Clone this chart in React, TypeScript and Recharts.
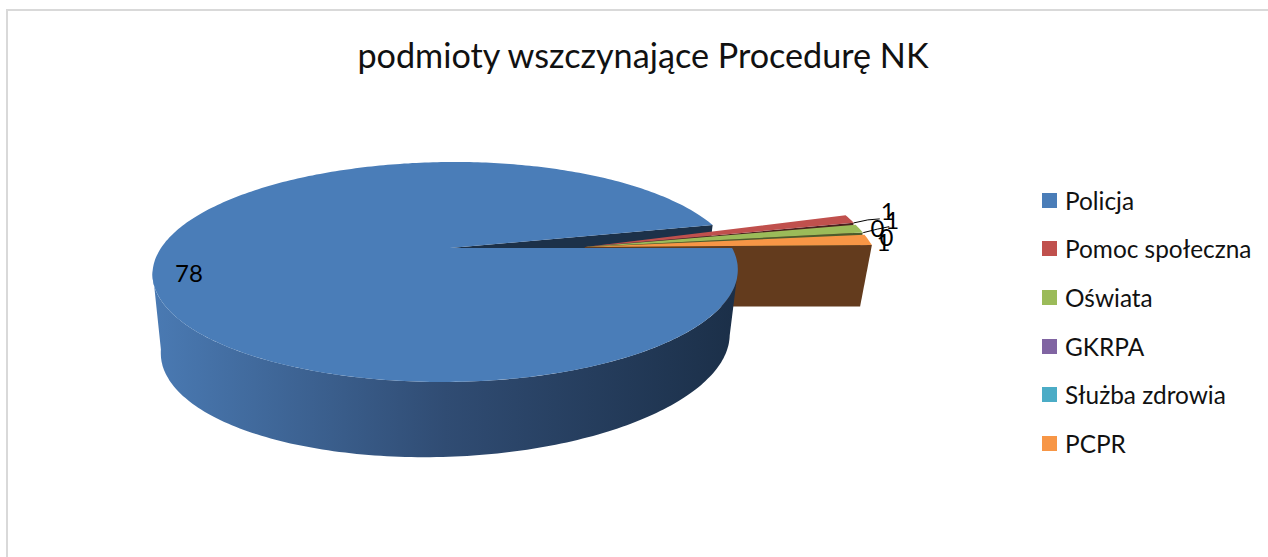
import React from 'react';
import { PieChart, Pie, Legend } from 'recharts';

const SOURCES = ['Policja', 'Pomoc społeczna', 'Oświata', 'GKRPA', 'Służba zdrowia', 'PCPR'];
const COUNTS = [78, 1, 1, 0, 0, 1];
const COLORS = ['#4a7db8', '#c0504d', '#9bbb59', '#8064a2', '#4bacc6', '#f79646'];
const SIDE_COLORS = ['#1c3149', '#4a201f', '#4c5c2c', '#32273f', '#1e4550', '#633b1d'];

const tableData = SOURCES.map((name, i) => ({ name, value: COUNTS[i], fill: COLORS[i] }));

// label placement relative to the slice tip, picked by eye
const LABEL_NUDGE = [
  { dx: -2, dy: 14 },
  { dx: 37, dy: -9 },
  { dx: 32, dy: -10 },
  { dx: 13, dy: -7 },
  { dx: 22, dy: 2 },
  { dx: 15, dy: 2 },
];

const EXPLODE = 0.47;
const PERSPECTIVE = 0.218;
const SQUASH_TOP = 0.365;
const SKEW = -0.02;
const SLICE_GAP = 0.9;

// fake 3D: flat pie coordinates (u right, v towards viewer) to screen
const project = (cx: number, cy: number, r: number, u: number, v: number, bottom: boolean, exploded: boolean) => {
  const d = 1 - PERSPECTIVE * v;
  // the disc is not quite symmetric around its apex
  const trim = exploded ? 1 : u > 0 ? 0.983 : 1.007;
  if (bottom) {
    const x = cx + (0.972 * r * u * trim + SKEW * r * v) / d;
    // the exploded slices sit flat, their lower edge stays level
    const y = exploded
      ? cy + 58.5 + (0.376 * r * v) / d
      : cy + 71 + (0.376 * r * v - 0.024 * r * u) / d;
    return [x, y];
  }
  const stretch = exploded ? 1.3 : 1;
  const x = cx + (r * u * trim + SKEW * r * v) / d;
  const y = cy + (stretch * SQUASH_TOP * r * v) / d - (exploded ? 0.007 * r * u : 0);
  return [x, y];
};

const arcPoints = (p: any, from: number, to: number, offset: number, bottom: boolean) => {
  const pts: number[][] = [];
  const steps = Math.max(2, Math.ceil(Math.abs(to - from)));
  for (let i = 0; i <= steps; i++) {
    const a = ((from + ((to - from) * i) / steps) * Math.PI) / 180;
    pts.push(project(p.cx, p.cy, p.outerRadius, offset + Math.cos(a), -Math.sin(a), bottom, offset > 0));
  }
  return pts;
};

const toPath = (pts: number[][]) =>
  'M' + pts.map((q) => `${q[0].toFixed(1)},${q[1].toFixed(1)}`).join('L') + 'Z';

// cut face on the upper edge of the big slice
const NotchShape = (p: any) => {
  if (p.name !== SOURCES[0]) return <g />;
  const a = (p.endAngle * Math.PI) / 180;
  const r = p.outerRadius;
  const edge = project(p.cx, p.cy, r, Math.cos(a), -Math.sin(a), false, false);
  const apex = project(p.cx, p.cy, r, 0, 0, false, false);
  const low = project(p.cx, p.cy, r, Math.cos(a), -Math.sin(a), true, false);
  const lowApex = project(p.cx, p.cy, r, 0, 0, true, false);
  return <path d={toPath([apex, edge, low, lowApex])} fill={SIDE_COLORS[0]} />;
};

// exploded small slices: dark cut face first, then the top
const SmallShape = (p: any) => {
  if (p.name === SOURCES[0] || p.endAngle === p.startAngle) return <g />;
  const idx = SOURCES.indexOf(p.name);
  const r = p.outerRadius;
  // stop short of the next slice so a strip of the dark face stays visible
  const end = idx === SOURCES.length - 1 ? p.endAngle : p.endAngle + SLICE_GAP;
  const a = (end * Math.PI) / 180;
  const apex = project(p.cx, p.cy, r, EXPLODE, 0, false, true);
  const tip = project(p.cx, p.cy, r, EXPLODE + Math.cos(a), -Math.sin(a), false, true);
  const tipLow = project(p.cx, p.cy, r, EXPLODE + Math.cos(a), -Math.sin(a), true, true);
  const apexLow = project(p.cx, p.cy, r, EXPLODE, 0, true, true);
  const top = [apex, ...arcPoints(p, p.startAngle, end, EXPLODE, false)];
  return (
    <g>
      <path d={toPath([apex, tip, tipLow, apexLow])} fill={SIDE_COLORS[idx]} />
      <path d={toPath(top)} fill={p.fill} />
    </g>
  );
};

// big slice: outer wall with the gradient, then the top
const BigShape = (p: any) => {
  if (p.name !== SOURCES[0]) return <g />;
  // wall runs between the left and right silhouette of the disc
  const wallTop = arcPoints(p, -12, -168, 0, false);
  const wallBottom = arcPoints(p, -12, -168, 0, true).reverse();
  const top = [project(p.cx, p.cy, p.outerRadius, 0, 0, false, false), ...arcPoints(p, p.startAngle, p.endAngle, 0, false)];
  return (
    <g>
      <path d={toPath([...wallTop, ...wallBottom])} fill="url(#wallFill)" />
      <path d={toPath(top)} fill={p.fill} />
    </g>
  );
};

const renderLabel = (p: any) => {
  const idx = SOURCES.indexOf(p.name);
  const mid = (((p.startAngle + p.endAngle) / 2) * Math.PI) / 180;
  const r = p.outerRadius;
  const big = idx === 0;
  const at = big
    ? project(p.cx, p.cy, r, 0.88 * Math.cos(mid), -0.88 * Math.sin(mid), false, false)
    : project(p.cx, p.cy, r, EXPLODE + Math.cos(mid), -Math.sin(mid), false, true);
  const x = at[0] + LABEL_NUDGE[idx].dx;
  const y = at[1] + LABEL_NUDGE[idx].dy;
  const leader = idx === 1 || idx === 2;
  return (
    <g key={p.name}>
      {leader && (
        <path
          d={`M${at[0] + 3},${at[1] + 3}Q${at[0] + 18},${at[1] - 1} ${at[0] + 29},${at[1] - (idx === 1 ? 1 : 3)}`}
          fill="none"
          stroke="#000"
          strokeWidth={1}
        />
      )}
      <text x={x} y={y} textAnchor="middle" dominantBaseline="central" fontSize={24} fontFamily="Lato" fill="#000">
        {p.value}
      </text>
    </g>
  );
};

const LegendList = ({ payload }: any) => {
  // three stacked Pie layers share the same data, show each name once
  const items = (payload || []).filter((it: any, i: number, all: any[]) => all.findIndex((o) => o.value === it.value) === i);
  return (
    <div style={{ fontFamily: 'Lato', fontSize: 24.4, color: '#111' }}>
      {items.map((item: any) => (
        <div key={item.value} style={{ height: 48.6, display: 'flex', alignItems: 'center' }}>
          <span style={{ width: 15, height: 15, background: item.color, marginRight: 8, display: 'inline-block' }} />
          <span>{item.value}</span>
        </div>
      ))}
    </div>
  );
};

const App: React.FC = () => {
  return (
    <div style={{ position: 'absolute', left: 0, top: 0, width: 1268, height: 557, background: '#fff', overflow: 'hidden' }}>
      <div style={{ position: 'absolute', left: 6, top: 9, width: 1262, height: 548, borderLeft: '2px solid #d9d9d9', borderTop: '2px solid #d9d9d9', boxSizing: 'border-box' }} />
      <div style={{ position: 'absolute', left: 0, top: 34, width: 1286, textAlign: 'center', fontFamily: 'Lato', fontSize: 34.2, color: '#111' }}>
        podmioty wszczynające Procedurę NK
      </div>
      <PieChart width={1268} height={557} margin={{ top: 0, right: 0, bottom: 0, left: 0 }} style={{ position: 'absolute', left: 0, top: 0 }}>
        <defs>
          <linearGradient id="wallFill" x1="0" y1="0" x2="1" y2="0">
            <stop offset="0%" stopColor="#4a7ab3" />
            <stop offset="50%" stopColor="#304c73" />
            <stop offset="100%" stopColor="#1b2f48" />
          </linearGradient>
        </defs>
        <Pie data={tableData} dataKey="value" nameKey="name" cx={450} cy={248} outerRadius={287} startAngle={0} endAngle={-360} stroke="none" legendType="none" isAnimationActive={false} shape={NotchShape} inactiveShape={NotchShape} />
        <Pie data={tableData} dataKey="value" nameKey="name" cx={450} cy={248} outerRadius={287} startAngle={0} endAngle={-360} stroke="none" legendType="none" isAnimationActive={false} shape={SmallShape} inactiveShape={SmallShape} />
        <Pie data={tableData} dataKey="value" nameKey="name" cx={450} cy={248} outerRadius={287} startAngle={0} endAngle={-360} stroke="none" isAnimationActive={false} shape={BigShape} inactiveShape={BigShape} label={renderLabel} labelLine={false} />
        <Legend
          layout="vertical"
          itemSorter={null}
          content={LegendList}
          wrapperStyle={{ position: 'absolute', left: 1042, top: 176, width: 226 }}
        />
      </PieChart>
    </div>
  );
};

export default App;
